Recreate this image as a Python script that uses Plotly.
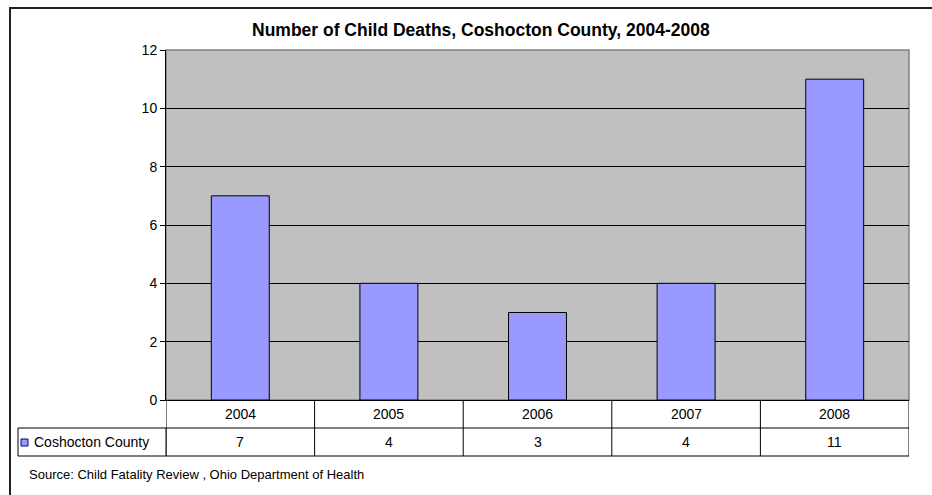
import plotly.graph_objects as go

years = ["2004", "2005", "2006", "2007", "2008"]
deaths = [7, 4, 3, 4, 11]
series_name = "Coshocton County"
title = "Number of Child Deaths, Coshocton County, 2004-2008"
source = "Source: Child Fatality Review , Ohio Department of Health"

W, H = 932, 495
L, R, T, B = 166, 909, 50, 400   # plot area in pixels


def px(x):
    return (x - L) / (R - L)


def py(y):
    return (B - y) / (B - T)


FONT = "Liberation Sans, Arial, sans-serif"
BAR = "#9999FF"

fig = go.Figure()
fig.add_trace(go.Bar(
    x=years, y=deaths, name=series_name,
    marker=dict(color=BAR, line=dict(color="black", width=1)),
    showlegend=False,
))

shapes = []
# plot area frame (gray), drawn below traces
shapes.append(dict(type="rect", xref="paper", yref="paper", x0=0, x1=1, y0=0, y1=1,
                   line=dict(color="#808080", width=1.5), layer="below"))
# outer chart frame
shapes.append(dict(type="path", xref="paper", yref="paper",
                   path=f"M {px(10)} {py(510)} L {px(10)} {py(8)} L {px(940)} {py(8)}",
                   line=dict(color="#222222", width=2)))
# data table lines
for yy in (428, 456):
    shapes.append(dict(type="line", xref="x", yref="paper", x0=-0.5, x1=len(years) - 0.5,
                       y0=py(yy), y1=py(yy), line=dict(color="black", width=1)))
for i in range(len(years) + 1):
    shapes.append(dict(type="line", xref="x", yref="paper", x0=i - 0.5, x1=i - 0.5,
                       y0=py(400), y1=py(456), line=dict(color="black", width=1)))
# legend cell
shapes.append(dict(type="rect", xref="paper", yref="paper", x0=px(18), x1=px(166),
                   y0=py(456), y1=py(428), line=dict(color="black", width=1)))
shapes.append(dict(type="rect", xref="paper", yref="paper", x0=px(21), x1=px(28),
                   y0=py(446), y1=py(439), fillcolor=BAR, line=dict(color="#000080", width=1)))

annotations = []
for i, (yr, v) in enumerate(zip(years, deaths)):
    annotations.append(dict(x=i, y=py(414), xref="x", yref="paper", text=yr,
                            xanchor="center", yanchor="middle",
                            showarrow=False, font=dict(size=14, color="black")))
    annotations.append(dict(x=i, y=py(442), xref="x", yref="paper", text=str(v),
                            xanchor="center", yanchor="middle",
                            showarrow=False, font=dict(size=14, color="black")))
annotations.append(dict(x=px(32), y=py(442), xref="paper", yref="paper", text=series_name,
                        xanchor="left", yanchor="middle", showarrow=False,
                        font=dict(size=14, color="black")))
annotations.append(dict(x=px(27), y=py(474), xref="paper", yref="paper", text=source,
                        xanchor="left", yanchor="middle", showarrow=False,
                        font=dict(size=13, color="black")))
annotations.append(dict(x=px(481), y=py(30), xref="paper", yref="paper", text=f"<b>{title}</b>",
                        xanchor="center", yanchor="middle", showarrow=False,
                        font=dict(size=17.5, color="black")))

fig.update_layout(
    width=W, height=H,
    margin=dict(l=L, r=W - R, t=T, b=H - B, pad=0),
    paper_bgcolor="white", plot_bgcolor="#C0C0C0",
    font=dict(family=FONT, size=14, color="black"),
    bargap=0.61,
    shapes=shapes, annotations=annotations,
    xaxis=dict(type="category", range=[-0.5, len(years) - 0.5], showticklabels=False,
               showgrid=False, showline=True, linecolor="black", linewidth=1, ticks="",
               fixedrange=True),
    yaxis=dict(range=[0, 12], dtick=2, showgrid=True, gridcolor="black", gridwidth=1,
               showline=True, linecolor="black", linewidth=1, ticks="outside", ticklen=5,
               tickcolor="black", zeroline=False, fixedrange=True),
)

# the page body has a default 8px margin; remove it so the figure sits at the window origin
fig.write_html("out.html", config={"displayModeBar": False},
               post_script="document.body.style.margin='0';")
